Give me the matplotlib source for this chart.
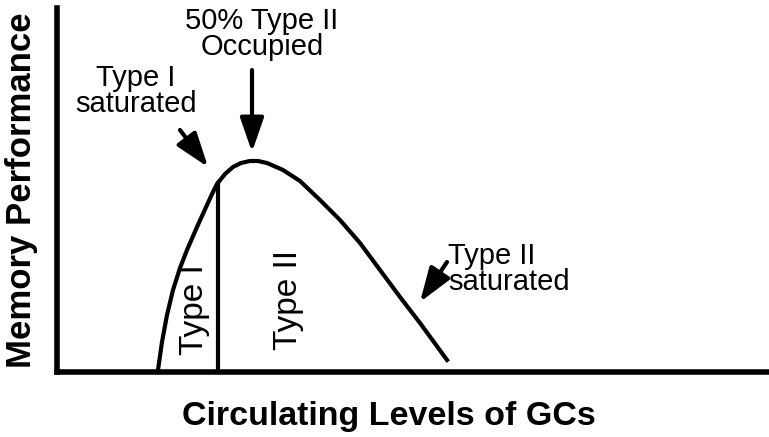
import matplotlib
matplotlib.use("Agg")
import matplotlib.pyplot as plt

plt.rcParams["font.family"] = ["Liberation Sans", "DejaVu Sans"]

# curve (arbitrary units)
curve_x = [101, 105, 110, 116, 123, 130, 140, 150, 155, 160, 168, 176, 184, 193, 201,
           210, 226, 243, 263, 283, 303, 323, 343, 363, 390]
curve_y = [2, 30, 57, 82, 104, 122, 145, 167, 178, 188, 198, 205, 209, 211, 211,
           209, 202, 191, 172, 152, 129, 102, 75, 49, 12]

# boundary between Type I and Type II regions
split_x = 161
split_top = 189

region_labels = ["Type I", "Type II"]
region_pos = [(138, 62), (231, 72)]

fig = plt.figure(figsize=(7.69, 4.37), dpi=100)
ax = fig.add_axes([57 / 769, 65 / 437, 712 / 769, 364 / 437])
ax.set_xlim(0, 712)
ax.set_ylim(0, 364)

ax.plot(curve_x, curve_y, color="black", linewidth=3, solid_joinstyle="round")
ax.plot([split_x, split_x], [0, split_top], color="black", linewidth=3)

for lab, (x, y) in zip(region_labels, region_pos):
    ax.text(x, y, lab, rotation=90, ha="center", va="center", fontsize=24)

arrow = dict(arrowstyle="-|>,head_length=0.95,head_width=0.33", color="black",
             linewidth=3, mutation_scale=22, shrinkA=0, shrinkB=0)

ax.annotate("", xy=(195, 220), xytext=(195, 302), arrowprops=arrow)
ax.annotate("", xy=(151, 205), xytext=(123, 242), arrowprops=arrow)
ax.annotate("", xy=(363, 70), xytext=(390, 110), arrowprops=arrow)

ax.text(205, 338, "50% Type II\nOccupied", ha="center", va="center",
        fontsize=21, linespacing=0.95, clip_on=False)
ax.text(79, 281, "Type I\nsaturated", ha="center", va="center",
        fontsize=21, linespacing=0.95)
ax.text(391, 103, "Type II\nsaturated", ha="left", va="center",
        fontsize=21, linespacing=0.95)

for side in ["top", "right"]:
    ax.spines[side].set_visible(False)
for side in ["left", "bottom"]:
    ax.spines[side].set_linewidth(4)
ax.set_xticks([])
ax.set_yticks([])

fig.text(389 / 769, 1 - 416 / 437, "Circulating Levels of GCs", ha="center", va="center",
         fontsize=24.5, fontweight="bold")
fig.text(22 / 769, 1 - 190 / 437, "Memory Performance", ha="center", va="center",
         rotation=90, fontsize=25, fontweight="bold")

fig.savefig("out.png", dpi=100)
